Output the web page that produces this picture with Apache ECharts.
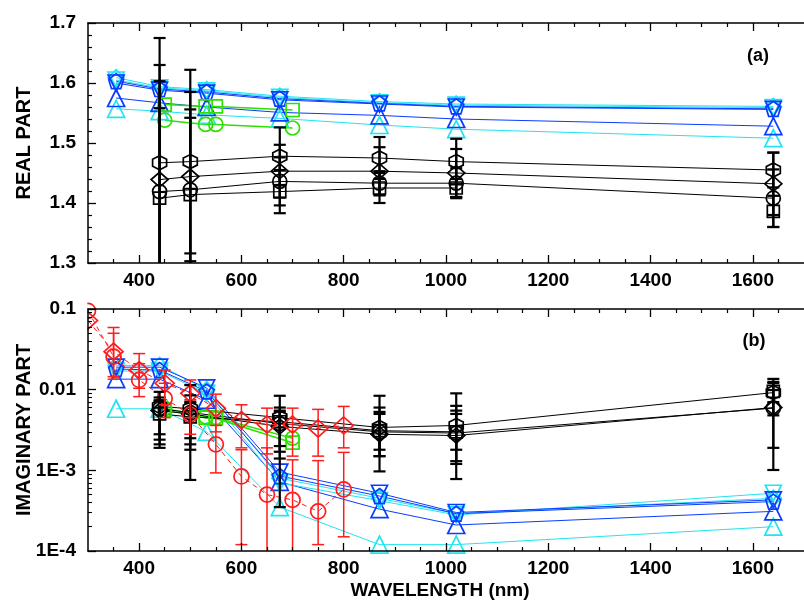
<!DOCTYPE html>
<html><head><meta charset="utf-8">
<script src="https://cdn.jsdelivr.net/npm/echarts@6/dist/echarts.min.js"></script>
<style>html,body{margin:0;padding:0;background:#fff}#c{width:804px;height:602px}</style>
</head><body><div id="c"></div>
<script>
// ---------- wavelengths (nm) ----------
const wlSky = [355, 440, 532, 675, 870, 1020, 1640];
const wlBlk = [440, 500, 675, 870, 1020, 1640];
const wlGrn = [450, 530, 550, 700];
const wlRed = [300, 350, 400, 450, 500, 550, 600, 650, 700, 750, 800];

// ---------- tick labels ----------
const xMajor = [400, 600, 800, 1000, 1200, 1400, 1600];
const xMinor = [350, 450, 500, 550, 650, 700, 750, 850, 900, 950, 1050, 1100, 1150, 1250, 1300, 1350, 1450, 1500, 1550, 1650];
const yRealLabels = [1.3, 1.4, 1.5, 1.6, 1.7];
const yImagLabels = ['1E-4', '1E-3', '0.01', '0.1'];
const yImagMinor = [2e-4,3e-4,4e-4,5e-4,6e-4,7e-4,8e-4,9e-4,2e-3,3e-3,4e-3,5e-3,6e-3,7e-3,8e-3,9e-3,0.02,0.03,0.04,0.05,0.06,0.07,0.08,0.09];

// ---------- (a) real part ----------
const reBlueDown = [1.600, 1.588, 1.583, 1.572, 1.565, 1.560, 1.556];
const reBluePent = [1.603, 1.590, 1.585, 1.574, 1.566, 1.561, 1.557];
const reBlueUp   = [1.575, 1.567, 1.560, 1.551, 1.546, 1.540, 1.528];
const reCyanDia  = [1.609, 1.594, 1.589, 1.578, 1.569, 1.565, 1.561];
const reCyanDown = [1.605, 1.592, 1.587, 1.576, 1.567, 1.563, 1.559];
const reCyanUp   = [1.557, 1.553, 1.547, 1.541, 1.530, 1.523, 1.508];

const reBlkHex = [1.467, 1.469, 1.478, 1.475, 1.469, 1.455];
const reBlkHexErr = [0.208, 0.153, 0.048, 0.035, 0.038, 0.029];
const reBlkDia = [1.439, 1.444, 1.453, 1.453, 1.450, 1.432];
const reBlkDiaErr = [0.191, 0.141, 0.044, 0.040, 0.040, 0.052];
const reBlkCir = [1.419, 1.422, 1.436, 1.433, 1.433, 1.408];
const reBlkCirErr = [0.184, 0.134, 0.040, 0.020, 0.025, 0.048];
const reBlkSq  = [1.408, 1.414, 1.419, 1.425, 1.425, 1.386];
const reBlkSqErr = [0.150, 0.128, 0.036, 0.025, 0.015, 0.026];

const reGrnSq  = [1.564, 1.561, 1.561, 1.555];
const reGrnCir = [1.538, 1.531, 1.531, 1.525];

// ---------- (b) imaginary part ----------
const imBlueDown = [0.019, 0.019, 0.0105, 0.00095, 0.00052, 0.00030, 0.00043];
const imBluePent = [0.018, 0.0175, 0.0095, 0.00085, 0.00048, 0.00029, 0.00041];
const imBlueUp   = [0.0135, 0.0135, 0.0075, 0.00072, 0.00033, 0.00021, 0.00031];
const imCyanDia  = [0.020, 0.020, 0.0100, 0.00080, 0.00045, 0.00029, 0.00045];
const imCyanDown = [0.017, 0.017, 0.0090, 0.00070, 0.00042, 0.00028, 0.00052];
const imCyanUp   = [0.0058, 0.0058, 0.0030, 0.00035, 0.00012, 0.00012, 0.00020];

const imBlkHex   = [0.0062, 0.0058, 0.0045, 0.0034, 0.0036, 0.0092];
const imBlkHexHi = [0.0094, 0.0114, 0.0084, 0.0084, 0.0090, 0.0136];
const imBlkHexLo = [0.0024, 0.00076, 0.00035, 0.00097, 0.00078, 0.0048];
const imBlkDia   = [0.0055, 0.0050, 0.0035, 0.0028, 0.0027, 0.0060];
const imBlkDiaHi = [0.0074, 0.0071, 0.0053, 0.0060, 0.0063, 0.0121];
const imBlkDiaLo = [0.0019, 0.0018, 0.0014, 0.0015, 0.0012, 0.00101];
const imBlkCir   = [0.0058, 0.0052, 0.0038, 0.0030, 0.0029, 0.0059];
const imBlkCirHi = [0.0080, 0.0085, 0.0060, 0.0053, 0.0055, 0.0099];
const imBlkCirLo = [0.0021, 0.0021, 0.0017, 0.0015, 0.0013, 0.0019];
const imBlkSq    = [0.0050, 0.0046, 0.0040, 0.0031, 0.0030, 0.0095];
const imBlkSqHi  = [0.0072, 0.0068, 0.0055, 0.0050, 0.0050, 0.0125];
const imBlkSqLo  = [0.0028, 0.0025, 0.0020, 0.0018, 0.0018, 0.0070];

const imGrnSq  = [0.0056, 0.0045, 0.0044, 0.0022];
const imGrnCir = [0.0059, 0.0046, 0.0045, 0.0025];

const imRedDia   = [0.072, 0.0296, 0.0175, 0.012, 0.009, 0.0059, 0.0042, 0.0037, 0.0037, 0.0033, 0.0036];
const imRedDiaHi = [null, 0.059, 0.028, 0.0175, 0.0132, 0.0088, 0.0065, 0.0059, 0.0059, 0.0057, 0.0062];
const imRedDiaLo = [null, 0.0145, 0.0104, 0.0065, 0.0045, 0.0030, 0.0019, 0.0016, 0.0015, 0.0015, 0.0019];
const imRedCir   = [0.095, 0.0257, 0.0132, 0.0078, 0.0049, 0.0021, 0.00084, 0.0005, 0.00043, 0.00031, 0.00058];
const imRedCirHi = [null, 0.05, 0.021, 0.012, 0.0075, 0.0036, 0.0018, 0.0019, 0.00135, 0.00132, 0.00167];
const imRedCirLo = [null, 0.0135, 0.0082, 0.0045, 0.0028, 0.00093, 0.00012, 0.00008, 0.00008, 0.00012, 0.00015];

// ---------- styling ----------
const FONT = '"Liberation Sans", Arial, sans-serif';
const BLUE = '#0a3cff', CYAN = '#22e4f0', GREEN = '#2ee000', RED = '#ff1c1c', BLACK = '#000';
const S = {
  up: 'triangle',
  down: 'path://M0,0 L100,0 L50,90 Z',
  pent: 'path://M50,0 L97.6,34.5 L79.4,90.5 L20.6,90.5 L2.4,34.5 Z',
  hex: 'path://M50,0 L93.3,25 L93.3,75 L50,100 L6.7,75 L6.7,25 Z',
  dia: 'diamond', cir: 'circle', sq: 'rect'
};
const AX = [{x: 0, y: 0, min: 1.3, max: 1.7}, {x: 4, y: 1, min: 1e-4, max: 0.1}];

function line(p, wl, vals, sym, size, color, opt) {
  opt = opt || {};
  return {
    type: 'line', xAxisIndex: AX[p].x, yAxisIndex: AX[p].y,
    data: wl.map((w, i) => [w, vals[i]]),
    symbol: sym, symbolSize: size, showSymbol: true, showAllSymbol: true,
    itemStyle: {color: 'rgba(0,0,0,0)', borderColor: color, borderWidth: opt.bw || 1.7},
    lineStyle: {color: color, width: opt.lw || 1, type: opt.dash ? [5, 4] : 'solid'},
    z: opt.z || 3, silent: true, animation: false
  };
}
function errRender(p, color, lw, capHalf) {
  const yMin = AX[p].min, yMax = AX[p].max;
  return function (params, api) {
    const x = api.value(0), lo = api.value(1), hi = api.value(2);
    const cLo = Math.max(lo, yMin), cHi = Math.min(hi, yMax);
    const a = api.coord([x, cLo]), b = api.coord([x, cHi]);
    const st = {stroke: color, lineWidth: lw};
    const ch = [{type: 'line', shape: {x1: a[0], y1: a[1], x2: b[0], y2: b[1]}, style: st}];
    if (lo >= yMin) ch.push({type: 'line', shape: {x1: a[0] - capHalf, y1: a[1], x2: a[0] + capHalf, y2: a[1]}, style: st});
    if (hi <= yMax) ch.push({type: 'line', shape: {x1: b[0] - capHalf, y1: b[1], x2: b[0] + capHalf, y2: b[1]}, style: st});
    return {type: 'group', children: ch};
  };
}
function errSym(p, wl, vals, err, color, lw, capHalf) {
  return errLH(p, wl, vals.map((v, i) => v - err[i]), vals.map((v, i) => v + err[i]), color, lw, capHalf);
}
function errLH(p, wl, lo, hi, color, lw, capHalf) {
  const data = [];
  wl.forEach((w, i) => { if (lo[i] != null && hi[i] != null) data.push([w, lo[i], hi[i]]); });
  return {type: 'custom', xAxisIndex: AX[p].x, yAxisIndex: AX[p].y, data: data,
    encode: {x: 0, y: [1, 2]}, renderItem: errRender(p, color, lw, capHalf), z: 6, silent: true, animation: false};
}

const series = [
  // (a)
  line(0, wlSky, reCyanUp, S.up, 17, CYAN),
  line(0, wlSky, reBlueUp, S.up, 17, BLUE),
  line(0, wlSky, reCyanDia, S.dia, 16, CYAN),
  line(0, wlSky, reCyanDown, S.down, 16, CYAN),
  line(0, wlSky, reBlueDown, S.down, 16, BLUE),
  line(0, wlSky, reBluePent, S.pent, 15, BLUE),
  line(0, wlGrn, reGrnSq, S.sq, 13, GREEN, {lw: 1.5}),
  line(0, wlGrn, reGrnCir, S.cir, 14, GREEN, {lw: 1.5}),
  line(0, wlBlk, reBlkHex, S.hex, 14, BLACK),
  line(0, wlBlk, reBlkDia, S.dia, [17, 15], BLACK),
  line(0, wlBlk, reBlkCir, S.cir, 14, BLACK),
  line(0, wlBlk.slice(0, 5), reBlkSq.slice(0, 5), S.sq, 12, BLACK),
  line(0, wlBlk.slice(5), reBlkSq.slice(5), S.sq, 12, BLACK),
  errSym(0, wlBlk, reBlkHex, reBlkHexErr, BLACK, 2.2, 6),
  errSym(0, wlBlk, reBlkDia, reBlkDiaErr, BLACK, 2.2, 6),
  errSym(0, wlBlk, reBlkCir, reBlkCirErr, BLACK, 2.2, 6),
  errSym(0, wlBlk, reBlkSq, reBlkSqErr, BLACK, 2.2, 6),
  // (b)
  line(1, wlSky, imCyanUp, S.up, 17, CYAN),
  line(1, wlSky, imBlueUp, S.up, 17, BLUE),
  line(1, wlSky, imCyanDia, S.dia, 16, CYAN),
  line(1, wlSky, imCyanDown, S.down, 16, CYAN),
  line(1, wlSky, imBlueDown, S.down, 16, BLUE),
  line(1, wlSky, imBluePent, S.pent, 15, BLUE),
  line(1, wlGrn, imGrnSq, S.sq, 13, GREEN, {lw: 1.5}),
  line(1, wlGrn, imGrnCir, S.cir, 14, GREEN, {lw: 1.5}),
  line(1, wlBlk, imBlkHex, S.hex, 14, BLACK),
  line(1, wlBlk, imBlkDia, S.dia, [17, 15], BLACK),
  line(1, wlBlk, imBlkCir, S.cir, 14, BLACK),
  line(1, wlBlk.slice(0, 5), imBlkSq.slice(0, 5), S.sq, 12, BLACK),
  line(1, wlBlk.slice(5), imBlkSq.slice(5), S.sq, 12, BLACK),
  errLH(1, wlBlk, imBlkHexLo, imBlkHexHi, BLACK, 2.2, 6),
  errLH(1, wlBlk, imBlkDiaLo, imBlkDiaHi, BLACK, 2.2, 6),
  errLH(1, wlBlk, imBlkCirLo, imBlkCirHi, BLACK, 2.2, 6),
  errLH(1, wlBlk, imBlkSqLo, imBlkSqHi, BLACK, 2.2, 6),
  line(1, wlRed, imRedDia, S.dia, [19, 17], RED, {dash: true, z: 5}),
  line(1, wlRed, imRedCir, S.cir, 15, RED, {dash: true, z: 5}),
  errLH(1, wlRed, imRedDiaLo, imRedDiaHi, RED, 1.5, 6),
  errLH(1, wlRed, imRedCirLo, imRedCirHi, RED, 1.5, 6)
];

function xAxes(gi, labels) {
  const base = {gridIndex: gi, type: 'value', min: 300, max: 1700, splitLine: {show: false}, z: 10};
  const lab = {show: labels, customValues: xMajor, margin: 8, color: '#000', fontFamily: FONT, fontWeight: 'bold', fontSize: 19,
    formatter: v => String(Math.round(v))};
  return [
    Object.assign({}, base, {position: 'bottom', axisLine: {show: true, onZero: false, lineStyle: {color: '#000', width: 1.5}},
      axisTick: {show: true, inside: true, length: 8, customValues: xMajor, lineStyle: {color: '#000', width: 1.3}}, axisLabel: lab}),
    Object.assign({}, base, {position: 'bottom', axisLine: {show: false, onZero: false},
      axisTick: {show: true, inside: true, length: 4, customValues: xMinor, lineStyle: {color: '#000', width: 1.2}}, axisLabel: {show: false}}),
    Object.assign({}, base, {position: 'top', axisLine: {show: true, onZero: false, lineStyle: {color: '#000', width: 1.5}},
      axisTick: {show: true, inside: true, length: 8, customValues: xMajor, lineStyle: {color: '#000', width: 1.3}}, axisLabel: {show: false}}),
    Object.assign({}, base, {position: 'top', axisLine: {show: false, onZero: false},
      axisTick: {show: true, inside: true, length: 4, customValues: xMinor, lineStyle: {color: '#000', width: 1.2}}, axisLabel: {show: false}})
  ];
}
const txt = (t, x, y, size, rot) => ({type: 'text', x: x, y: y, rotation: rot || 0, z: 100,
  style: {text: t, font: 'bold ' + size + 'px ' + FONT, fill: '#000', align: 'center', verticalAlign: 'middle', textAlign: 'center', textVerticalAlign: 'middle'}});

const option = {
  animation: false,
  backgroundColor: '#fff',
  grid: [
    {left: 88, top: 23, width: 724, height: 240, show: false},
    {left: 88, top: 309, width: 724, height: 242, show: false}
  ],
  xAxis: xAxes(0, true).concat(xAxes(1, true)),
  yAxis: [
    {gridIndex: 0, type: 'value', min: 1.3, max: 1.7, interval: 0.1, position: 'left', z: 10,
      axisLine: {show: true, onZero: false, lineStyle: {color: '#000', width: 1.5}},
      axisTick: {show: true, inside: true, length: 8, lineStyle: {color: '#000', width: 1.3}},
      minorTick: {show: true, splitNumber: 5, length: 4, lineStyle: {color: '#000', width: 1.2}},
      splitLine: {show: false},
      axisLabel: {margin: 12, color: '#000', fontFamily: FONT, fontWeight: 'bold', fontSize: 19,
        formatter: v => { const m = yRealLabels.find(t => Math.abs(t - v) < 1e-6); return m != null ? m.toFixed(1) : ''; }}},
    {gridIndex: 1, type: 'log', logBase: 10, min: 1e-4, max: 0.1, position: 'left', z: 10,
      axisLine: {show: true, onZero: false, lineStyle: {color: '#000', width: 1.5}},
      axisTick: {show: true, inside: true, length: 8, lineStyle: {color: '#000', width: 1.3}},
      splitLine: {show: false},
      axisLabel: {margin: 12, color: '#000', fontFamily: FONT, fontWeight: 'bold', fontSize: 19,
        formatter: v => { const e = Math.round(Math.log10(v)); return yImagLabels[e + 4] || ''; }}},
    {gridIndex: 1, type: 'log', logBase: 10, min: 1e-4, max: 0.1, position: 'left', z: 10,
      axisLine: {show: false, onZero: false},
      axisTick: {show: true, inside: true, length: 4, customValues: yImagMinor, lineStyle: {color: '#000', width: 1.1}},
      splitLine: {show: false}, axisLabel: {show: false}}
  ],
  graphic: [
    // white mask hiding marker halves that fall left of the lower panel's axis
    {type: 'rect', shape: {x: 77, y: 296, width: 10.3, height: 50}, style: {fill: '#fff'}, z: 8, silent: true},
    txt('REAL PART', 24, 143, 20, Math.PI / 2),
    txt('IMAGINARY PART', 24, 430, 20, Math.PI / 2),
    txt('WAVELENGTH (nm)', 440, 591, 19),
    txt('(a)', 758, 56, 18),
    txt('(b)', 754, 341, 18)
  ],
  series: series
};
const chart = echarts.init(document.getElementById('c'), null, {renderer: 'canvas'});
chart.setOption(option);
</script>
</body></html>
